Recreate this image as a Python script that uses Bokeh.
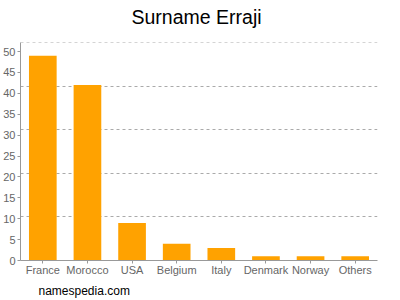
from bokeh.plotting import figure
from bokeh.models import FixedTicker, Title, Range1d
from bokeh.embed import file_html
from bokeh.resources import INLINE

countries = ["France", "Morocco", "USA", "Belgium", "Italy", "Denmark", "Norway", "Others"]
counts = [49, 42, 9, 4, 3, 1, 1, 1]
y_ticks = [0, 5, 10, 15, 20, 25, 30, 35, 40, 45, 50]

Y_MAX = 52.1
FONT = "Liberation Sans"

p = figure(width=400, height=300, x_range=countries, y_range=Range1d(0, Y_MAX + 0.08),
           output_backend="svg", toolbar_location=None,
           min_border_left=18, min_border_right=23, min_border_top=40, min_border_bottom=39)

p.title.text = "Surname Erraji"
p.title.align = "left"
p.title.offset = 111
p.title.vertical_align = "bottom"
p.title.text_font = FONT
p.title.text_font_size = "19.5px"
p.title.text_font_style = "normal"
p.title.text_color = "#000000"
p.title.standoff = 6

# empty spacer between the title and the plot area
spacer = Title(text=" ", text_font_size="1px", standoff=9, text_color="white")
p.add_layout(spacer, "above")

p.vbar(x=countries, top=counts, width=0.62, color="#FFA200", line_color=None)

p.outline_line_color = None
p.background_fill_color = "white"
p.border_fill_color = "white"

# y axis
p.yaxis.ticker = FixedTicker(ticks=y_ticks)
p.yaxis.axis_line_color = "#999999"
p.yaxis.major_tick_line_color = "#999999"
p.yaxis.major_tick_in = 0
p.yaxis.major_tick_out = 3
p.yaxis.minor_tick_line_color = None
p.yaxis.major_label_standoff = 2
p.yaxis.major_label_text_font = FONT
p.yaxis.major_label_text_font_size = "11px"
p.yaxis.major_label_text_color = "#666666"

# x axis
p.xaxis.axis_line_color = "#999999"
p.xaxis.major_tick_line_color = "#999999"
p.xaxis.major_tick_in = 0
p.xaxis.major_tick_out = 3
p.xaxis.major_label_standoff = 0
p.xaxis.major_label_text_font = FONT
p.xaxis.major_label_text_font_size = "11px"
p.xaxis.major_label_text_color = "#666666"

# grid
p.xgrid.grid_line_color = None
p.ygrid.ticker = FixedTicker(ticks=[Y_MAX * k / 5 for k in range(1, 6)])
p.ygrid.grid_line_color = "#aaaaaa"
p.ygrid.grid_line_dash = "3 3"
p.ygrid.grid_line_width = 1

footer = Title(text="namespedia.com", align="left", offset=18,
               text_font=FONT, text_font_size="12px", text_font_style="normal",
               text_color="#000000", standoff=6)
p.add_layout(footer, "below")

open("out.html", "w").write(file_html(p, INLINE))
